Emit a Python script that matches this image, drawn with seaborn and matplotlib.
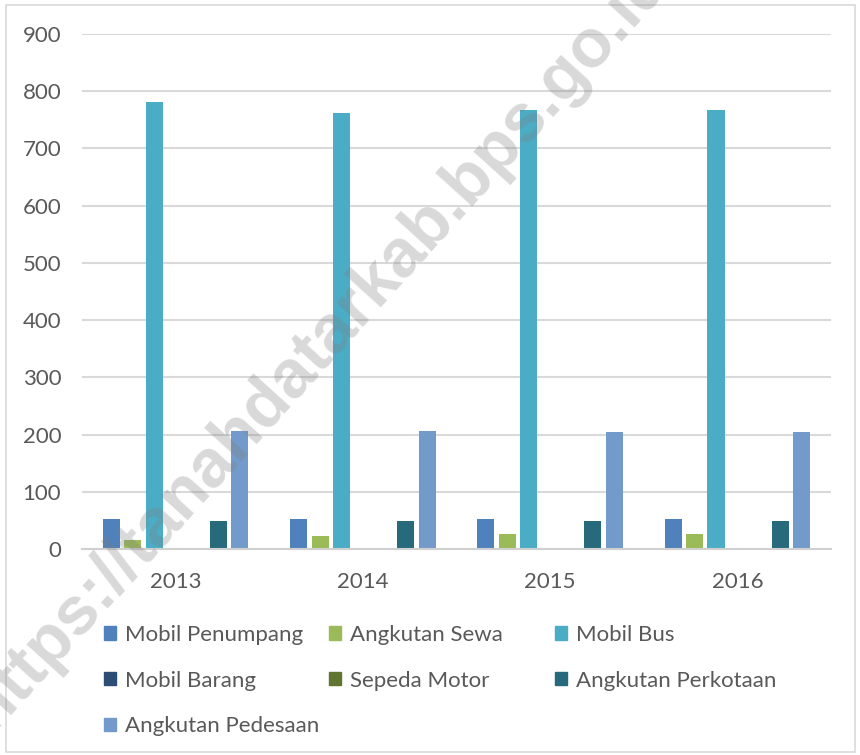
import pandas as pd
import matplotlib
matplotlib.use("Agg")
import matplotlib.pyplot as plt
import matplotlib.patches as mpatches
import seaborn as sns

# Data (jumlah kendaraan per tahun)
years = ["2013", "2014", "2015", "2016"]
mobil_penumpang = [52, 52, 52, 52]
angkutan_sewa = [15, 23, 26, 26]
mobil_bus = [782, 762, 767, 767]
mobil_barang = [0, 0, 0, 0]
sepeda_motor = [0, 0, 0, 0]
angkutan_perkotaan = [49, 49, 49, 49]
angkutan_pedesaan = [207, 207, 204, 204]

series_names = ["Mobil Penumpang", "Angkutan Sewa", "Mobil Bus", "Mobil Barang",
                "Sepeda Motor", "Angkutan Perkotaan", "Angkutan Pedesaan"]
series_values = [mobil_penumpang, angkutan_sewa, mobil_bus, mobil_barang,
                 sepeda_motor, angkutan_perkotaan, angkutan_pedesaan]
colors = ["#4F81BD", "#9BBB59", "#4BACC6", "#2C4D75",
          "#5F7530", "#276A7C", "#729ACA"]

rows = []
for name, vals in zip(series_names, series_values):
    for yr, v in zip(years, vals):
        rows.append({"Tahun": yr, "Jenis": name, "Jumlah": v})
df = pd.DataFrame(rows)

sns.set_theme(style="white")
plt.rcParams["font.family"] = ["Lato", "DejaVu Sans"]
TEXT = "#595959"
FS = 16

W, H = 860, 755
fig = plt.figure(figsize=(W / 100, H / 100), dpi=100)
ax = fig.add_axes([82 / W, 1 - 549 / H, (831 - 82) / W, (549 - 34) / H])

sns.barplot(data=df, x="Tahun", y="Jumlah", hue="Jenis", hue_order=series_names,
            palette=colors, width=0.8, gap=0.2, linewidth=0, saturation=1,
            errorbar=None, legend=False, ax=ax)

ax.set_ylim(0, 900)
ax.set_yticks(range(0, 901, 100))
ax.yaxis.grid(True, color="#d9d9d9", linewidth=1.5)
ax.set_axisbelow(True)
for s in ["top", "right", "left"]:
    ax.spines[s].set_visible(False)
ax.spines["bottom"].set_color("#d0d0d0")
ax.spines["bottom"].set_linewidth(1.5)
ax.tick_params(axis="y", length=0, pad=15, labelsize=FS, labelcolor=TEXT)
ax.tick_params(axis="x", length=0, pad=16.5, labelsize=FS, labelcolor=TEXT)
ax.set_xlabel("")
ax.set_ylabel("")

# legend, laid out like the original (row by row, three columns)
handles = {n: mpatches.Patch(color=c, label=n) for n, c in zip(series_names, colors)}
columns = [
    (104, ["Mobil Penumpang", "Mobil Barang", "Angkutan Pedesaan"]),
    (329, ["Angkutan Sewa", "Sepeda Motor"]),
    (555, ["Mobil Bus", "Angkutan Perkotaan"]),
]
for x0, names in columns:
    fig.legend(handles=[handles[n] for n in names], loc="upper left",
               bbox_to_anchor=(x0 / W, 1 - 625 / H), frameon=False,
               fontsize=FS, labelcolor=TEXT, borderpad=0, borderaxespad=0,
               handlelength=0.55, handleheight=0.55, handletextpad=0.4,
               labelspacing=1.15)

# chart border
fig.add_artist(mpatches.Rectangle((6 / W, 3 / H), 849 / W, 747 / H,
                                  transform=fig.transFigure, fill=False,
                                  edgecolor="#d9d9d9", linewidth=1.2))

# watermark
fig.text(318 / W, 1 - 345 / H, "https://tanahdatarkab.bps.go.id", fontsize=49,
         fontweight="bold", color="#808080", alpha=0.3, rotation=47.8,
         rotation_mode="anchor", ha="center", va="center",
         family=["Liberation Sans", "DejaVu Sans"])

fig.savefig("out.png", dpi=100)
